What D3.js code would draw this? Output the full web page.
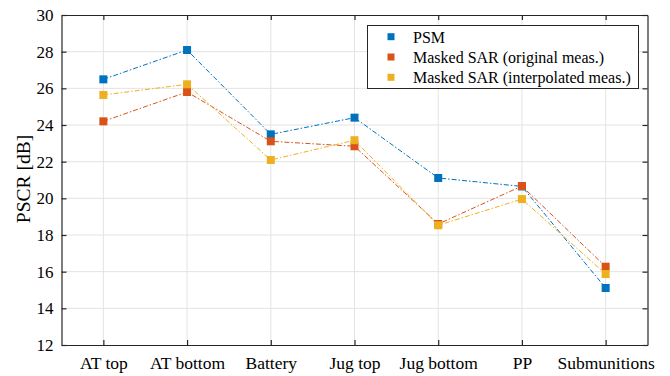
<!DOCTYPE html>
<html>
<head>
<meta charset="utf-8">
<script src="https://cdn.jsdelivr.net/npm/d3@7"></script>
<style>
  html, body { margin: 0; padding: 0; background: #fff; }
  svg { display: block; }
  svg text { font-family: "Liberation Serif", "Times New Roman", Times, Tinos, "DejaVu Serif", serif; }
</style>
</head>
<body>
<svg id="chart" width="670" height="376"></svg>
<script>
// Categories along the x axis
const categories = ["AT top", "AT bottom", "Battery", "Jug top", "Jug bottom", "PP", "Submunitions"];

// PSCR values in dB for each method
const psm          = [26.49, 28.09, 23.49, 24.40, 21.11, 20.65, 15.11];
const sarOriginal  = [24.20, 25.80, 23.11, 22.84, 18.60, 20.67, 16.27];
const sarInterp    = [25.64, 26.22, 22.09, 23.17, 18.53, 19.96, 15.87];

const seriesNames  = ["PSM", "Masked SAR (original meas.)", "Masked SAR (interpolated meas.)"];
const seriesColors = ["#0072BD", "#D95319", "#EDB120"];
const yTicks = [12, 14, 16, 18, 20, 22, 24, 26, 28, 30];

const series = [psm, sarOriginal, sarInterp].map((values, i) => ({
  name: seriesNames[i], color: seriesColors[i], values
}));

const svg = d3.select("#chart");
const plotL = 61.5, plotR = 647.5, plotT = 15, plotB = 345;

const x = d3.scaleLinear().domain([0.5, categories.length + 0.5]).range([plotL, plotR]);
const y = d3.scaleLinear().domain([12, 30]).range([plotB, plotT]);
const axisColor = "#262626";
const tickLen = 5;

// Grid
const grid = svg.append("g");
grid.selectAll("line.gx").data(categories).join("line")
  .attr("x1", (d, i) => x(i + 1)).attr("x2", (d, i) => x(i + 1))
  .attr("y1", plotT).attr("y2", plotB)
  .attr("stroke", "#e3e3e3").attr("stroke-width", 1);
grid.selectAll("line.gy").data(yTicks.slice(1, -1)).join("line")
  .attr("x1", plotL).attr("x2", plotR)
  .attr("y1", d => y(d)).attr("y2", d => y(d))
  .attr("stroke", "#e3e3e3").attr("stroke-width", 1);

// Axes (box with inward ticks on all four sides)
const xAxisB = d3.axisBottom(x).tickValues(d3.range(1, categories.length + 1))
  .tickFormat(d => categories[d - 1]).tickSizeInner(-tickLen).tickSizeOuter(0).tickPadding(12);
const xAxisT = d3.axisTop(x).tickValues(d3.range(1, categories.length + 1))
  .tickFormat("").tickSizeInner(-tickLen).tickSizeOuter(0);
const yAxisL = d3.axisLeft(y).tickValues(yTicks).tickSizeInner(-tickLen).tickSizeOuter(0).tickPadding(8);
const yAxisR = d3.axisRight(y).tickValues(yTicks).tickFormat("").tickSizeInner(-tickLen).tickSizeOuter(0);

function styleAxis(g, size) {
  g.attr("font-family", null);
  g.select(".domain").attr("stroke", axisColor).attr("stroke-width", 1.2);
  g.selectAll(".tick line").attr("stroke", axisColor).attr("stroke-width", 1.2);
  g.selectAll(".tick text").attr("fill", "#000").style("font-size", size + "px");
}
svg.append("g").attr("transform", `translate(0,${plotB})`).call(xAxisB).call(styleAxis, 17.5);
svg.append("g").attr("transform", `translate(0,${plotT})`).call(xAxisT).call(styleAxis, 17);
svg.append("g").attr("transform", `translate(${plotL},0)`).call(yAxisL).call(styleAxis, 17);
svg.append("g").attr("transform", `translate(${plotR},0)`).call(yAxisR).call(styleAxis, 17);

// Y label
svg.append("text")
  .attr("transform", `translate(29.5,${(plotT + plotB) / 2 - 1}) rotate(-90)`)
  .attr("text-anchor", "middle")
  .style("font-size", "19.5px")
  .text("PSCR [dB]");

// Lines and markers
const line = d3.line().x((d, i) => x(i + 1)).y(d => y(d));
const plot = svg.append("g");
series.forEach(s => {
  plot.append("path")
    .attr("d", line(s.values))
    .attr("fill", "none")
    .attr("stroke", s.color)
    .attr("stroke-width", 1)
    .attr("stroke-dasharray", "5,2,1.5,2");
});
const ms = 8;
series.forEach(s => {
  plot.selectAll(null).data(s.values).join("rect")
    .attr("x", (d, i) => x(i + 1) - ms / 2)
    .attr("y", d => y(d) - ms / 2)
    .attr("width", ms).attr("height", ms)
    .attr("fill", s.color);
});

// Legend
const lg = svg.append("g");
lg.append("rect")
  .attr("x", 367.5).attr("y", 25.5).attr("width", 271).attr("height", 63)
  .attr("fill", "#fff").attr("stroke", axisColor).attr("stroke-width", 1);
series.forEach((s, i) => {
  const cy = 36.7 + i * 20.3;
  lg.append("rect").attr("x", 391 - 3.5).attr("y", cy - 3.5).attr("width", 7).attr("height", 7)
    .attr("fill", s.color);
  lg.append("text").attr("x", 413).attr("y", cy + 6)
    .style("font-size", "16px").text(s.name);
});
</script>
</body>
</html>
